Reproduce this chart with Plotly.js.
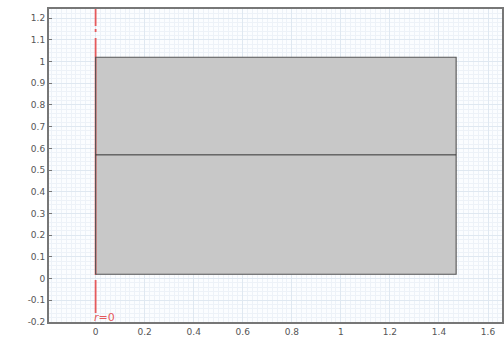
<!DOCTYPE html>
<html><head><meta charset="utf-8">
<script src="https://cdn.plot.ly/plotly-3.0.1.min.js"></script>
<style>html,body{margin:0;padding:0;background:#fff}#c{width:504px;height:338px}</style>
</head><body><div id="c"></div>
<script>
// Geometry (COMSOL-style 2D axisymmetric plot)
const rectX = [0, 1.47, 1.47, 0, 0];
const rectY = [0.02, 0.02, 1.02, 1.02, 0.02];
const midX = [0, 1.47];
const midY = [0.57, 0.57];
const symAxisX = [0, 0];
const symAxisY = [1.242, -0.158];
const xTicks = [0, 0.2, 0.4, 0.6, 0.8, 1, 1.2, 1.4, 1.6];
const xTickText = ["0", "0.2", "0.4", "0.6", "0.8", "1", "1.2", "1.4", "1.6"];
const yTicks = [-0.2, -0.1, 0, 0.1, 0.2, 0.3, 0.4, 0.5, 0.6, 0.7, 0.8, 0.9, 1, 1.1, 1.2];
const yTickText = ["-0.2", "-0.1", "0", "0.1", "0.2", "0.3", "0.4", "0.5", "0.6", "0.7", "0.8", "0.9", "1", "1.1", "1.2"];
const axisLabel = "<i>r</i>=0";

const traces = [
  {x: rectX, y: rectY, mode: 'none', fill: 'toself', fillcolor: '#c8c8c8', hoverinfo: 'skip'},
  {x: symAxisX, y: symAxisY, mode: 'lines', line: {color: '#e55a5c', width: 1.8, dash: '17px,3px,3px,6px,237px,5px,60px'}, hoverinfo: 'skip'},
  {x: rectX, y: rectY, mode: 'lines', line: {color: '#555', width: 1.1}, hoverinfo: 'skip'},
  {x: midX, y: midY, mode: 'lines', line: {color: '#333', width: 1}, hoverinfo: 'skip'}
];

const gridCol = '#dfe8f1';
const layout = {
  width: 504, height: 338,
  margin: {l: 49, r: 2, t: 9, b: 16},
  paper_bgcolor: '#ffffff',
  plot_bgcolor: '#fbfdff',
  showlegend: false,
  font: {family: 'DejaVu Sans, sans-serif', size: 9, color: '#555'},
  xaxis: {
    range: [-0.19, 1.657], tickvals: xTicks, ticktext: xTickText,
    showgrid: true, gridcolor: gridCol, gridwidth: 1, zeroline: false,
    showline: true, linecolor: '#777', linewidth: 2, mirror: true,
    ticks: '', ticklen: 0,
    minor: {dtick: 0.02, showgrid: true, gridcolor: '#edf2f8', gridwidth: 1}
  },
  yaxis: {
    range: [-0.2, 1.242], tickvals: yTicks, ticktext: yTickText,
    showgrid: true, gridcolor: gridCol, gridwidth: 1, zeroline: false,
    showline: true, linecolor: '#777', linewidth: 2, mirror: true,
    ticks: 'inside', ticklen: 3, tickcolor: '#777',
    minor: {dtick: 0.02, showgrid: true, gridcolor: '#edf2f8', gridwidth: 1}
  },
  annotations: [{
    x: 0, y: -0.2, xref: 'x', yref: 'y', text: axisLabel, showarrow: false,
    xanchor: 'left', yanchor: 'bottom', xshift: -4, yshift: -4,
    font: {family: 'DejaVu Sans, sans-serif', size: 11, color: '#e55a5c'}
  }]
};
Plotly.newPlot('c', traces, layout, {staticPlot: true, displayModeBar: false});
</script></body></html>
